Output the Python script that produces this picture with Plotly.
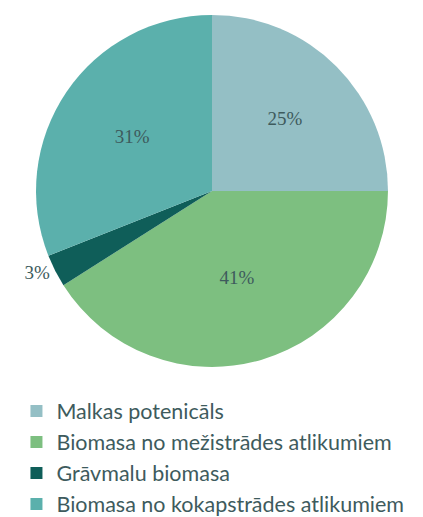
import plotly.graph_objects as go

labels = ["Malkas potenicāls", "Biomasa no mežistrādes atlikumiem", "Grāvmalu biomasa", "Biomasa no kokapstrādes atlikumiem"]
values = [25, 41, 3, 31]
colors = ["#94bfc5", "#7dbf80", "#0f5e59", "#5bb0ac"]
text_positions = ["inside", "inside", "outside", "inside"]

W, H = 423, 517
cx, cy, r = 204, 184, 177

fig = go.Figure(go.Pie(
    labels=labels,
    values=values,
    sort=False,
    direction="clockwise",
    marker=dict(colors=colors, line=dict(width=0)),
    textinfo="percent",
    texttemplate="%{percent:.0%}",
    textposition=text_positions,
    textfont=dict(family="Liberation Serif", size=19, color="#3e5b5d"),
    insidetextorientation="horizontal",
    domain=dict(x=[(cx - r) / W, (cx + r) / W], y=[1 - (cy + r) / H, 1 - (cy - r) / H]),
    showlegend=True,
))

fig.update_layout(
    width=W, height=H,
    margin=dict(l=0, r=0, t=0, b=0),
    paper_bgcolor="white",
    legend=dict(
        x=0.02, y=-0.005, xanchor="left", yanchor="bottom",
        font=dict(family="Lato", size=21.5, color="#3e5b5d"),
        itemwidth=30,
        tracegroupgap=0,
    ),
)

fig.write_html("out.html")
